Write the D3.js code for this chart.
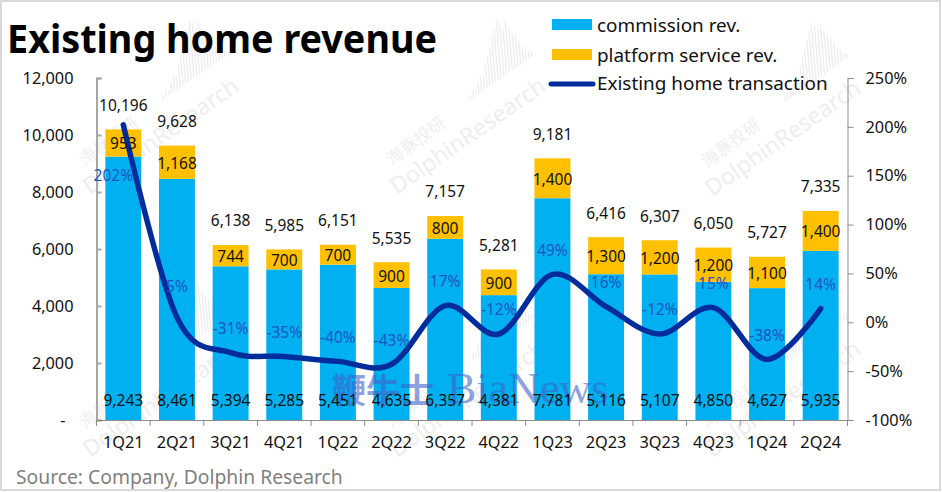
<!DOCTYPE html>
<html>
<head>
<meta charset="utf-8">
<script src="https://cdn.jsdelivr.net/npm/d3@7"></script>
<style>
  html, body { margin: 0; padding: 0; background: #fff; }
  svg { display: block; font-family: "Noto Sans", sans-serif; }
</style>
</head>
<body>
<svg id="chart"></svg>
<script>
const quarters = ["1Q21", "2Q21", "3Q21", "4Q21", "1Q22", "2Q22", "3Q22", "4Q22", "1Q23", "2Q23", "3Q23", "4Q23", "1Q24", "2Q24"];
const commission = [9243, 8461, 5394, 5285, 5451, 4635, 6357, 4381, 7781, 5116, 5107, 4850, 4627, 5935];
const platform = [953, 1168, 744, 700, 700, 900, 800, 900, 1400, 1300, 1200, 1200, 1100, 1400];
const totals = [10196, 9628, 6138, 5985, 6151, 5535, 7157, 5281, 9181, 6416, 6307, 6050, 5727, 7335];
const transaction = [202, 5, -31, -35, -40, -43, 17, -12, 49, 16, -12, 15, -38, 14];
const leftTicks = [0, 2000, 4000, 6000, 8000, 10000, 12000];
const rightTicks = [-100, -50, 0, 50, 100, 150, 200, 250];
const waveHeights = [4, 7, 5, 10, 14, 12, 20, 26, 32, 38, 44, 50, 46, 40, 44, 36, 30, 26, 20, 14, 10, 6, 4];

const width = 942, height = 492;
const plotLeft = 96.5, plotRight = 847.5, plotTop = 78, plotBottom = 420;
const blue = "#00B0F0", yellow = "#FFC000", navy = "#002C9C", labelBlue = "#1F55C0";

const svg = d3.select("#chart").attr("width", width).attr("height", height);

svg.append("rect").attr("x", 1).attr("y", 1).attr("width", width - 3).attr("height", height - 3)
    .attr("fill", "#fff").attr("stroke", "#d9d9d9").attr("stroke-width", 2);

// watermark tiles, behind everything
const wm = svg.append("g");
[[90, 195], [397, 195], [712, 197], [90, 458], [397, 458], [712, 458]].forEach(([tx, ty]) => {
  const t = wm.append("g").attr("transform", `translate(${tx},${ty}) rotate(-35)`).attr("fill", "#eeeeee");
  t.append("text").attr("font-size", 23).text("DolphinResearch");
  t.append("text").attr("x", 13).attr("y", -28).attr("font-size", 17).text("海豚投研");
  t.append("g").attr("transform", "translate(115,-36) skewX(-30)")
    .selectAll("line").data(waveHeights).join("line")
      .attr("x1", (d, i) => i * 3.4).attr("x2", (d, i) => i * 3.4)
      .attr("y1", 0).attr("y2", d => -d)
      .attr("stroke", "#eeeeee").attr("stroke-width", 1.6);
});

const x = d3.scaleBand().domain(quarters).range([plotLeft, plotRight]).paddingInner(0.33).paddingOuter(0.165);
const y = d3.scaleLinear().domain([0, 12000]).range([plotBottom, plotTop]);
const y2 = d3.scaleLinear().domain([-100, 250]).range([plotBottom, plotTop]);

// stacked bars
const g = svg.append("g");
g.selectAll(".commission").data(quarters).join("rect")
    .attr("x", d => x(d)).attr("width", x.bandwidth())
    .attr("y", (d, i) => y(commission[i]))
    .attr("height", (d, i) => y(0) - y(commission[i]))
    .attr("fill", blue);
g.selectAll(".platform").data(quarters).join("rect")
    .attr("x", d => x(d)).attr("width", x.bandwidth())
    .attr("y", (d, i) => y(commission[i] + platform[i]))
    .attr("height", (d, i) => y(commission[i]) - y(commission[i] + platform[i]))
    .attr("fill", yellow);

// axes
const fmt = d3.format(",");
const yAxis = svg.append("g").attr("transform", `translate(${plotLeft},0)`)
    .call(d3.axisLeft(y).tickValues(leftTicks).tickSize(-5).tickPadding(23).tickFormat(d => d === 0 ? "-" : fmt(d)));
yAxis.selectAll("text").filter(d => d === 0).attr("dx", -8);
const y2Axis = svg.append("g").attr("transform", `translate(${plotRight},0)`)
    .call(d3.axisRight(y2).tickValues(rightTicks).tickSize(6).tickPadding(12).tickFormat(d => d + "%"));
const xAxis = svg.append("g").attr("transform", `translate(0,${plotBottom})`)
    .call(d3.axisBottom(x).tickSize(0).tickPadding(16));
xAxis.selectAll(".tick line").remove();
xAxis.selectAll("line.edge").data(quarters.concat("end")).join("line").attr("class", "edge")
    .attr("x1", (d, i) => plotLeft + i * x.step()).attr("x2", (d, i) => plotLeft + i * x.step())
    .attr("y1", 0).attr("y2", 6).attr("stroke", "#8c8c8c");

[yAxis, y2Axis, xAxis].forEach(a => {
  a.attr("font-family", null).attr("font-size", null);
  a.selectAll("text").attr("fill", "#111").attr("font-size", 16.3);
  a.selectAll(".domain").attr("stroke", "#8c8c8c");
  a.selectAll(".tick line").attr("stroke", "#8c8c8c");
});
yAxis.selectAll(".domain").attr("stroke", "#a6a6a6").attr("stroke-width", 2);
yAxis.selectAll(".tick line").attr("stroke", "#a6a6a6").attr("stroke-width", 2);

// transaction line
const line = d3.line()
    .x(d => x(d) + x.bandwidth() / 2)
    .y((d, i) => y2(transaction[i]))
    .curve(d3.curveCardinal.tension(0));
svg.append("path").datum(quarters).attr("d", line)
    .attr("fill", "none").attr("stroke", navy).attr("stroke-width", 5.5).attr("stroke-linecap", "round");

// brand stamp sits over the bars
const stamp = svg.append("g").attr("fill", "#3f63c8").attr("fill-opacity", 0.6);
stamp.append("text").attr("x", 332).attr("y", 403).attr("font-size", 34).attr("font-weight", 700)
    .attr("font-family", "'Noto Sans CJK SC'").text("鞭牛士");
stamp.append("text").attr("x", 447).attr("y", 403).attr("font-size", 44)
    .attr("font-family", "'Liberation Serif'").text("BiaNews");

// data labels
const labelSize = 15.5;
const labels = svg.append("g").attr("text-anchor", "middle").attr("font-size", labelSize).attr("fill", "#111");
labels.selectAll(".c").data(quarters).join("text")
    .attr("x", d => x(d) + x.bandwidth() / 2).attr("y", y(0) - 19).attr("dy", ".35em")
    .text((d, i) => fmt(commission[i]));
labels.selectAll(".p").data(quarters).join("text")
    .attr("x", d => x(d) + x.bandwidth() / 2)
    .attr("y", (d, i) => y(commission[i] + platform[i] / 2) + 1).attr("dy", ".35em")
    .text((d, i) => fmt(platform[i]));
labels.selectAll(".t").data(quarters).join("text")
    .attr("x", d => x(d) + x.bandwidth() / 2)
    .attr("y", (d, i) => y(commission[i] + platform[i]) - 24).attr("dy", ".35em")
    .text((d, i) => fmt(totals[i]));

// 1Q21 and 2Q21 labels were moved by hand in the original
labels.selectAll(".l").data(quarters).join("text")
    .attr("x", (d, i) => x(d) + x.bandwidth() / 2 + (i === 0 ? -10 : 0))
    .attr("y", (d, i) => y2(transaction[i]) + (i === 0 ? 51 : i === 1 ? -31 : -24)).attr("dy", ".35em")
    .attr("fill", labelBlue)
    .text((d, i) => transaction[i] + "%");

// legend
const legend = svg.append("g").attr("font-size", 18.9).attr("fill", "#111");
legend.append("rect").attr("x", 552).attr("y", 19).attr("width", 40).attr("height", 11).attr("fill", blue);
legend.append("rect").attr("x", 552).attr("y", 49).attr("width", 40).attr("height", 11).attr("fill", yellow);
legend.append("line").attr("x1", 551).attr("x2", 593).attr("y1", 84).attr("y2", 84)
    .attr("stroke", navy).attr("stroke-width", 5).attr("stroke-linecap", "round");
[["commission rev.", 25], ["platform service rev.", 55], ["Existing home transaction", 83]].forEach(([t, ty]) => {
  legend.append("text").attr("x", 597).attr("y", ty).attr("dy", ".35em").text(t);
});

svg.append("text").attr("x", 7).attr("y", 53).attr("font-size", 39).attr("font-weight", 700)
    .attr("textLength", 430).attr("lengthAdjust", "spacingAndGlyphs")
    .attr("fill", "#000").text("Existing home revenue");
svg.append("text").attr("x", 16).attr("y", 484).attr("font-size", 19.3)
    .attr("fill", "#7f7f7f").text("Source: Company, Dolphin Research");
</script>
</body>
</html>
